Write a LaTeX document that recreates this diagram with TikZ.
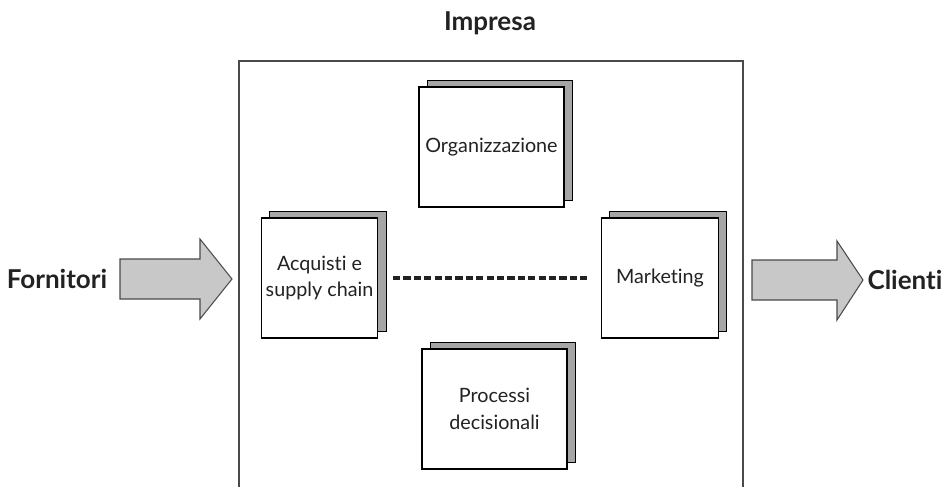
\documentclass[tikz,border=0pt]{standalone}
\usepackage{fontspec}
\setmainfont[Ligatures=NoCommon]{Lato}
\usetikzlibrary{shadows}
\definecolor{framegray}{HTML}{4A4A4A}
\definecolor{shadegray}{HTML}{A6A6A6}
\definecolor{arrowgray}{HTML}{C8C8C8}
\definecolor{textgray}{HTML}{222222}
\begin{document}
\begin{tikzpicture}[x=0.75pt,y=-0.75pt,
  unit/.style={draw=black, line width=0.8pt, fill=white, text=textgray,
    minimum height=90pt, inner sep=0pt, align=center,
    font=\fontsize{14.8}{20}\selectfont,
    general shadow={fill=shadegray, draw=black, line width=0.8pt,
      shadow xshift=6.2pt, shadow yshift=5pt}},
  wide/.style={unit, minimum width=108.75pt},
  narrow/.style={unit, minimum width=87.5pt},
  label/.style={text=textgray, font=\bfseries\fontsize{19.5}{22}\selectfont},
  flow/.style={draw=framegray, line width=0.8pt, fill=arrowgray, line join=miter},
  link/.style={draw=textgray, line width=2.4pt, dash pattern=on 5.4pt off 2.4pt,
    shorten <=11pt, shorten >=9pt}]
\useasboundingbox (0,0) rectangle (947,487);

% company frame, open at the bottom
\draw[framegray, line width=1.5pt] (239,487) -- (239,61) -- (743,61) -- (743,487);
\node[label] (impresa) at (490,23) {Impresa};

% functional units
\node[wide]   (org)  at (491.5,147) {Organizzazione};
\node[narrow] (acq)  at (319.5,278) {Acquisti e\\supply chain};
\node[narrow] (mkt)  at (660,278)   {Marketing};
\node[wide]   (proc) at (494.5,409) {Processi\\decisionali};

\draw[link] (acq.east) -- (mkt.west);

% inbound and outbound flows
\draw[flow] (120,259) -- (200,259) -- (200,239) -- (232,279)
  -- (200,319) -- (200,299) -- (120,299) -- cycle;
\draw[flow] (752,260) -- (837,260) -- (837,241) -- (863,280)
  -- (837,320) -- (837,300) -- (752,300) -- cycle;

\node[label] (forn) at (57,279) {Fornitori};
\node[label] (cli)  at (905,280) {Clienti};
\end{tikzpicture}
\end{document}
